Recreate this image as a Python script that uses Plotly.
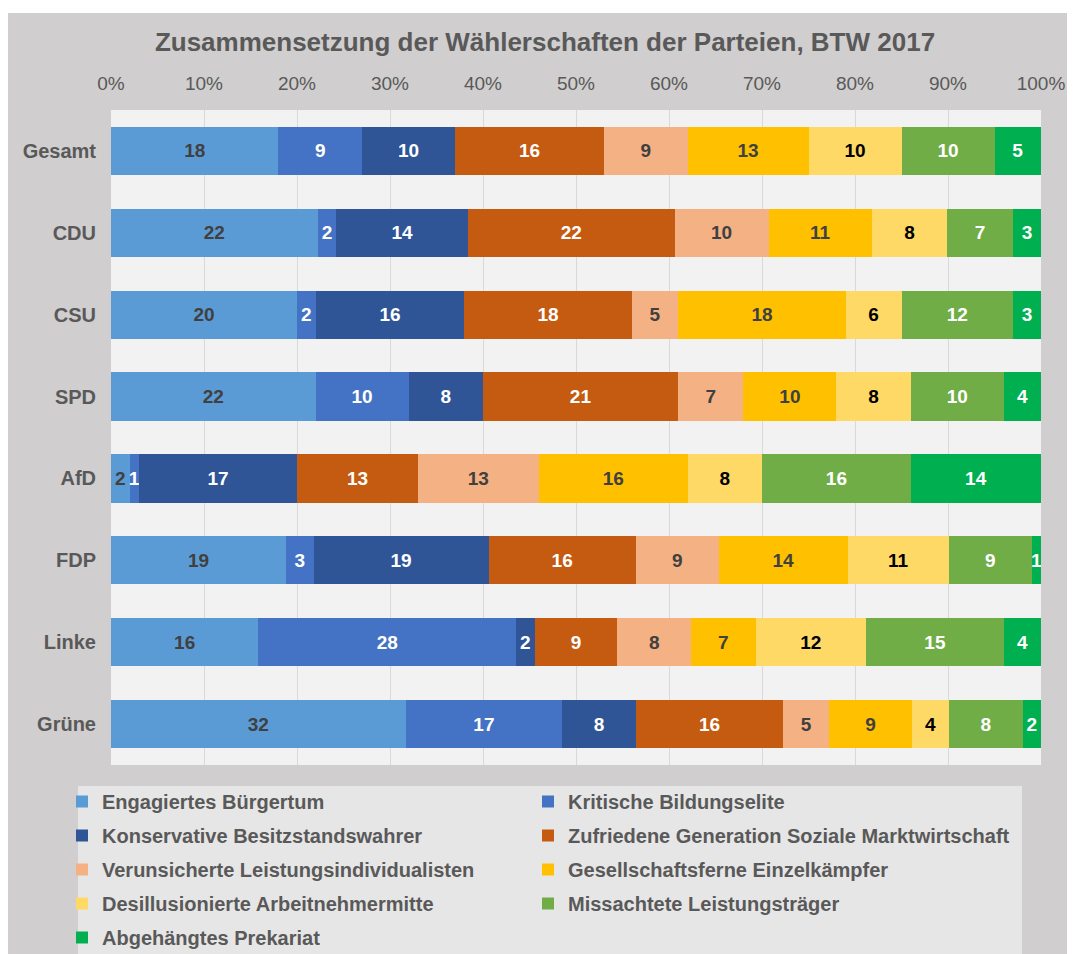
import plotly.graph_objects as go

parties = ["Gesamt", "CDU", "CSU", "SPD", "AfD", "FDP", "Linke", "Grüne"]

series_names = [
    "Engagiertes Bürgertum",
    "Kritische Bildungselite",
    "Konservative Besitzstandswahrer",
    "Zufriedene Generation Soziale Marktwirtschaft",
    "Verunsicherte Leistungsindividualisten",
    "Gesellschaftsferne Einzelkämpfer",
    "Desillusionierte Arbeitnehmermitte",
    "Missachtete Leistungsträger",
    "Abgehängtes Prekariat",
]

engagiert = [18, 22, 20, 22, 2, 19, 16, 32]
kritisch = [9, 2, 2, 10, 1, 3, 28, 17]
konservativ = [10, 14, 16, 8, 17, 19, 2, 8]
zufrieden = [16, 22, 18, 21, 13, 16, 9, 16]
verunsichert = [9, 10, 5, 7, 13, 9, 8, 5]
gesellschaftsfern = [13, 11, 18, 10, 16, 14, 7, 9]
desillusioniert = [10, 8, 6, 8, 8, 11, 12, 4]
missachtet = [10, 7, 12, 10, 16, 9, 15, 8]
abgehaengt = [5, 3, 3, 4, 14, 1, 4, 2]

series_values = [engagiert, kritisch, konservativ, zufrieden, verunsichert,
                 gesellschaftsfern, desillusioniert, missachtet, abgehaengt]

colors = ["#5b9bd5", "#4472c4", "#2f5597", "#c55a11", "#f4b183",
          "#ffc000", "#ffd966", "#70ad47", "#00b050"]
label_colors = ["#404040", "#ffffff", "#ffffff", "#ffffff", "#404040",
                "#404040", "#000000", "#ffffff", "#ffffff"]

FONT = "Liberation Sans, Arial, sans-serif"
GRAY = "#595959"

fig = go.Figure()
for i, (name, vals) in enumerate(zip(series_names, series_values)):
    fig.add_trace(go.Bar(
        y=parties, x=vals, orientation="h", name=name,
        marker=dict(color=colors[i], line=dict(width=0)),
        text=vals, texttemplate="%{text}", textposition="inside",
        insidetextanchor="middle", textangle=0,
        textfont=dict(family=FONT, size=19, color=label_colors[i], weight="bold"),
        legend="legend" if i % 2 == 0 else "legend2",
        legendgroup=name,
        hoverinfo="skip",
    ))

# figure pixel coordinates (page has an 8px body margin)
W, H = 1067, 946
L, R, T, B = 103, 34, 102, 189
pw, ph = W - L - R, H - T - B

def px_x(p):
    return (p - L) / pw

def px_y(p):
    return (H - B - p) / ph

legend_common = dict(
    orientation="v", bgcolor="rgba(0,0,0,0)", borderwidth=0,
    font=dict(family=FONT, size=20, color=GRAY, weight="bold"),
    tracegroupgap=5, traceorder="grouped", itemwidth=30,
    xanchor="left", yanchor="top", itemclick=False, itemdoubleclick=False,
)

fig.update_layout(
    width=W, height=H,
    margin=dict(l=L, r=R, t=T, b=B, autoexpand=False),
    paper_bgcolor="#d0cece",
    plot_bgcolor="#f2f2f2",
    barmode="stack", barnorm="percent", bargap=0.41,
    uniformtext=dict(mode="show", minsize=19),
    showlegend=True,
    title=dict(
        text="Zusammensetzung der Wählerschaften der Parteien, BTW 2017",
        font=dict(family=FONT, size=26, color=GRAY, weight="bold"),
        x=537 / W, xref="container", xanchor="center",
        y=1 - 34 / H, yref="container", yanchor="middle",
    ),
    xaxis=dict(
        side="top", range=[0, 100], dtick=10, ticksuffix="%",
        showgrid=True, gridcolor="#d9d9d9", gridwidth=1.3,
        zeroline=False, showline=False, ticks="",
        tickfont=dict(family=FONT, size=19, color=GRAY),
        ticklabelstandoff=15, fixedrange=True,
    ),
    yaxis=dict(
        autorange="reversed", showgrid=False, zeroline=False, showline=False,
        ticks="", tickfont=dict(family=FONT, size=20, color=GRAY, weight="bold"),
        ticklabelstandoff=14, fixedrange=True,
    ),
    legend=dict(x=px_x(54), y=px_y(774), **legend_common),
    legend2=dict(x=px_x(520), y=px_y(774), **legend_common),
    shapes=[
        # legend background
        dict(type="rect", xref="paper", yref="paper",
             x0=px_x(70), x1=px_x(1014), y0=px_y(778), y1=px_y(950),
             fillcolor="#e7e6e6", line=dict(width=0), layer="below"),
        # thin white strip on top
        dict(type="rect", xref="paper", yref="paper",
             x0=px_x(-5), x1=px_x(W + 5), y0=px_y(5), y1=px_y(-5),
             fillcolor="#ffffff", line=dict(width=0), layer="above"),
    ],
)

fig.write_html("out.html")
